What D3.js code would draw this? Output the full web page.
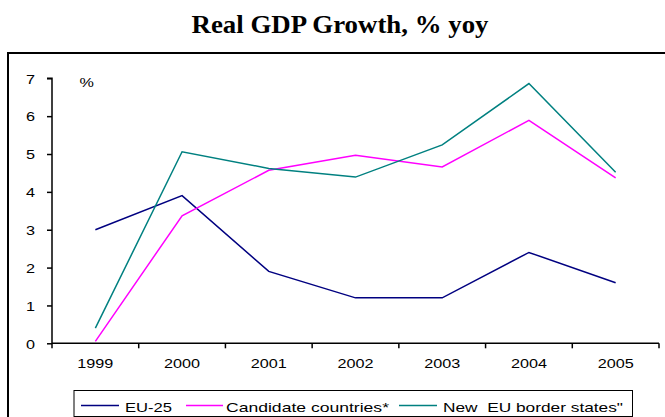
<!DOCTYPE html>
<html>
<head>
<meta charset="utf-8">
<script src="https://cdn.jsdelivr.net/npm/d3@7"></script>
<style>
  html, body { margin: 0; padding: 0; background: #fff; }
  svg { display: block; }
</style>
</head>
<body>
<svg id="chart" width="665" height="417"></svg>
<script>
// Real GDP growth, % year on year
const years = ["1999", "2000", "2001", "2002", "2003", "2004", "2005"];
const eu25 = [3.0, 3.9, 1.9, 1.2, 1.2, 2.4, 1.6];
const candidates = [0.05, 3.37, 4.57, 4.97, 4.66, 5.89, 4.37];
const borderStates = [0.4, 5.06, 4.62, 4.39, 5.24, 6.86, 4.52];
const yTicks = [0, 1, 2, 3, 4, 5, 6, 7];

const seriesNames = ["EU-25", "Candidate countries*", "New  EU border states\""];
const seriesColors = ["#000080", "#ff00ff", "#008080"];
const seriesValues = [eu25, candidates, borderStates];

const svg = d3.select("#chart");
const font = "Arial, 'Liberation Sans', sans-serif";
const fs = "13.5px";
const stretch = 1.2; // wide sans lettering

// place a label at (x, y) with horizontal stretch
function wideText(sel, x, yy) {
  sel.attr("x", 0).attr("y", 0).attr("dy", null)
    .attr("transform", `translate(${x},${yy}) scale(${stretch},1)`);
}

// Title
svg.append("text")
  .attr("x", 340).attr("y", 32.5)
  .attr("text-anchor", "middle")
  .attr("textLength", 297)
  .attr("lengthAdjust", "spacingAndGlyphs")
  .style("font-family", "'Times New Roman', 'Liberation Serif', serif")
  .style("font-weight", "bold")
  .style("font-size", "25px")
  .text("Real GDP Growth, % yoy");

// Outer frame (continues past the right and bottom edges)
svg.append("rect")
  .attr("x", 8).attr("y", 53)
  .attr("width", 700).attr("height", 420)
  .attr("fill", "none")
  .attr("stroke", "#000")
  .attr("stroke-width", 2);

const plotLeft = 52, plotRight = 659, plotTop = 78.3, plotBottom = 343.3;

const xBand = d3.scaleBand().domain(years).range([plotLeft, plotRight]).padding(0);
const y = d3.scaleLinear().domain([0, 7]).range([plotBottom, plotTop]);

// Y axis
const yAxis = svg.append("g")
  .attr("transform", `translate(${plotLeft},0)`)
  .call(d3.axisLeft(y).tickValues(yTicks).tickSize(5).tickFormat(d3.format("d")));
yAxis.select(".domain").attr("stroke", "#000").attr("stroke-width", 1.5).attr("d", `M-5,${plotTop}H0V${plotBottom}`);
yAxis.selectAll(".tick line").attr("stroke", "#000").attr("stroke-width", 1.5);
yAxis.selectAll(".tick text")
  .style("font-family", font).style("font-size", fs).attr("fill", "#000")
  .attr("text-anchor", "end")
  .each(function () { wideText(d3.select(this), -17, 4.8); });

// X axis: ticks sit on category boundaries, labels at category centres
const boundaries = years.map(d => xBand(d)).concat([plotRight]);
const xg = svg.append("g").attr("transform", `translate(0,${plotBottom})`);
xg.append("line")
  .attr("x1", plotLeft).attr("x2", plotRight).attr("y1", 0).attr("y2", 0)
  .attr("stroke", "#000").attr("stroke-width", 1.5);
xg.selectAll("line.tk").data(boundaries).join("line")
  .attr("class", "tk")
  .attr("x1", d => d).attr("x2", d => d).attr("y1", 0).attr("y2", 5)
  .attr("stroke", "#000").attr("stroke-width", 1.5);
xg.selectAll("text").data(years).join("text")
  .attr("text-anchor", "middle")
  .style("font-family", font).style("font-size", fs)
  .text(d => d)
  .each(function (d) { wideText(d3.select(this), xBand(d) + xBand.bandwidth() / 2, 25); });

// Unit label
svg.append("text")
  .style("font-family", font).style("font-size", fs)
  .text("%")
  .call(wideText, 79.5, 87);

// Lines
const line = d3.line()
  .x((d, i) => xBand(years[i]) + xBand.bandwidth() / 2)
  .y(d => y(d));

seriesValues.forEach((vals, k) => {
  svg.append("path")
    .datum(vals)
    .attr("fill", "none")
    .attr("stroke", seriesColors[k])
    .attr("stroke-width", 1.5)
    .attr("stroke-linejoin", "miter")
    .attr("d", line);
});

// Legend
const lg = svg.append("g");
lg.append("rect")
  .attr("x", 74).attr("y", 390.5)
  .attr("width", 558.5).attr("height", 26)
  .attr("fill", "#fff").attr("stroke", "#000").attr("stroke-width", 1);

const legendItems = [
  { x1: 81, x2: 119, tx: 125, w: 47 },
  { x1: 186, x2: 223, tx: 226, w: 163 },
  { x1: 399, x2: 437, tx: 443, w: 180 }
];
legendItems.forEach((it, k) => {
  lg.append("line")
    .attr("x1", it.x1).attr("x2", it.x2).attr("y1", 405.5).attr("y2", 405.5)
    .attr("stroke", seriesColors[k]).attr("stroke-width", 1.5);
  lg.append("text")
    .attr("x", it.tx).attr("y", 412)
    .attr("textLength", it.w)
    .attr("lengthAdjust", "spacingAndGlyphs")
    .style("font-family", font).style("font-size", fs)
    .style("white-space", "pre")
    .text(seriesNames[k]);
});
</script>
</body>
</html>
